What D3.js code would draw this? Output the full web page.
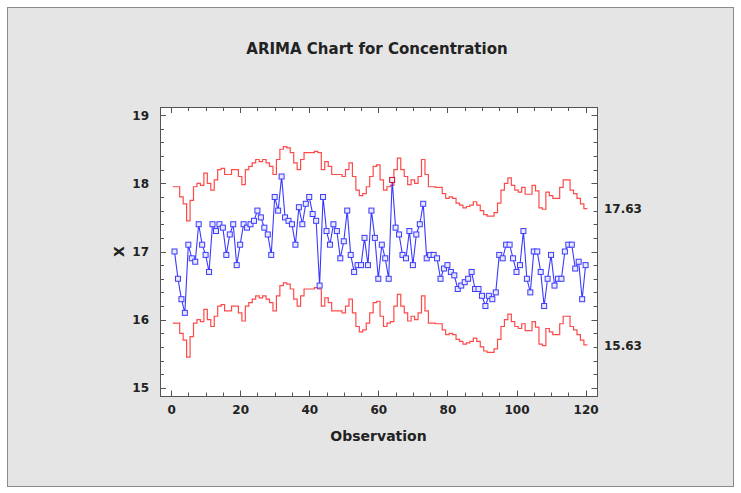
<!DOCTYPE html>
<html>
<head>
<meta charset="utf-8">
<script src="https://cdn.jsdelivr.net/npm/d3@7/dist/d3.min.js"></script>
<style>
  html, body { margin: 0; padding: 0; background: #ffffff; }
  svg { display: block; }
  text { font-family: "DejaVu Sans", Verdana, sans-serif; font-weight: bold; fill: #222; }
</style>
</head>
<body>
<svg id="chart" width="741" height="493"></svg>
<script>
// Observed concentration, observations 1..120
const concentration = [
  17.0, 16.6, 16.3, 16.1, 17.1, 16.9, 16.85, 17.4, 17.1, 16.95,
  16.7, 17.4, 17.3, 17.4, 17.35, 16.95, 17.25, 17.4, 16.8, 17.1,
  17.4, 17.35, 17.4, 17.45, 17.6, 17.5, 17.35, 17.25, 16.95, 17.8,
  17.6, 18.1, 17.5, 17.45, 17.4, 17.1, 17.65, 17.4, 17.7, 17.8,
  17.55, 17.45, 16.5, 17.8, 17.3, 17.1, 17.4, 17.3, 16.9, 17.15,
  17.6, 16.95, 16.7, 16.8, 16.8, 17.2, 16.8, 17.6, 17.2, 16.6,
  17.1, 16.9, 16.6, 18.05, 17.35, 17.25, 16.95, 16.9, 17.3, 16.8,
  17.25, 17.4, 17.7, 16.9, 16.95, 16.95, 16.9, 16.6, 16.75, 16.8,
  16.7, 16.65, 16.45, 16.5, 16.55, 16.6, 16.7, 16.45, 16.45, 16.35,
  16.2, 16.35, 16.3, 16.4, 16.95, 16.9, 17.1, 17.1, 16.9, 16.7,
  16.8, 17.3, 16.6, 16.4, 17.0, 17.0, 16.7, 16.2, 16.6, 16.95,
  16.5, 16.6, 16.6, 17.0, 17.1, 17.1, 16.75, 16.85, 16.3, 16.8
];

// One-step-ahead ARIMA forecasts for each observation
const forecast = [
  16.95, 16.95, 16.8, 16.7, 16.45, 16.75, 16.95, 17.0, 16.97, 17.15,
  17.0, 16.9, 17.05, 17.2, 17.22, 17.13, 17.13, 17.2, 17.2, 17.1,
  16.98, 17.2, 17.25, 17.3, 17.35, 17.32, 17.35, 17.3, 17.25, 17.13,
  17.35, 17.5, 17.54, 17.52, 17.45, 17.3, 17.2, 17.35, 17.45, 17.45,
  17.45, 17.47, 17.45, 17.2, 17.32, 17.25, 17.13, 17.13, 17.13, 17.1,
  17.2, 17.3, 17.1, 16.9, 16.82, 16.85, 16.95, 17.1, 17.25, 17.27,
  17.05, 16.9, 16.95, 16.97, 17.2, 17.37, 17.2, 17.1, 16.98, 17.05,
  17.0, 17.1, 17.35, 17.13, 16.95, 16.95, 16.94, 16.94, 16.85, 16.78,
  16.8, 16.78, 16.71, 16.68, 16.64, 16.66, 16.68, 16.73, 16.68, 16.6,
  16.54, 16.52, 16.52, 16.57, 16.71, 16.9, 17.0, 17.08, 16.97, 16.9,
  16.87, 16.94, 16.84, 16.84, 16.97, 16.89, 16.64, 16.62, 16.87, 16.82,
  16.78, 16.78, 16.94, 17.05, 17.05, 16.9, 16.85, 16.78, 16.7, 16.63
];

// Control limits sit this far either side of the forecast
const limitWidth = 1.0;

const xTicks = [0, 20, 40, 60, 80, 100, 120];
const yTicks = [15, 16, 17, 18, 19];

const title = "ARIMA Chart for Concentration";
const xTitle = "Observation";
const yTitle = "X";

const svg = d3.select("#chart");
const W = 741, H = 493;

// Outer panel
svg.append("rect")
  .attr("x", 7.5).attr("y", 7.5)
  .attr("width", W - 15).attr("height", H - 14)
  .attr("fill", "#e5e5e5").attr("stroke", "#8a8a8a");

const plot = { left: 160, top: 107, right: 597, bottom: 396 };

const x = d3.scaleLinear().domain([-3.2, 123.3]).range([plot.left, plot.right]);
const y = d3.scaleLinear().domain([14.88, 19.12]).range([plot.bottom, plot.top]);

// Plot area
svg.append("rect")
  .attr("x", plot.left + 0.5).attr("y", plot.top + 0.5)
  .attr("width", plot.right - plot.left).attr("height", plot.bottom - plot.top)
  .attr("fill", "#ffffff");

// Title
svg.append("text")
  .attr("x", 377).attr("y", 54)
  .attr("text-anchor", "middle")
  .attr("font-size", 15)
  .text(title);

// Inward ticks on all four sides
const minorY = d3.range(15, 19.01, 0.2);
const minorX = d3.range(0, 121, 5);
const tickG = svg.append("g").attr("stroke", "#555").attr("stroke-width", 1);

minorY.forEach(v => {
  const isMajor = Math.abs(v - Math.round(v)) < 1e-6;
  const len = isMajor ? 6 : 4;
  const yy = Math.round(y(v)) + 0.5;
  tickG.append("line").attr("x1", plot.left).attr("x2", plot.left + len).attr("y1", yy).attr("y2", yy);
  tickG.append("line").attr("x1", plot.right + 0.5).attr("x2", plot.right + 0.5 - len).attr("y1", yy).attr("y2", yy);
});
minorX.forEach(v => {
  const isMajor = v % 20 === 0;
  const len = isMajor ? 6 : 4;
  const xx = Math.round(x(v)) + 0.5;
  tickG.append("line").attr("x1", xx).attr("x2", xx).attr("y1", plot.top).attr("y2", plot.top + len);
  tickG.append("line").attr("x1", xx).attr("x2", xx).attr("y1", plot.bottom + 0.5).attr("y2", plot.bottom + 0.5 - len);
});

// Axes tick labels via D3 axes
const xAxis = d3.axisBottom(x).tickValues(xTicks).tickFormat(d3.format("d")).tickSize(0).tickPadding(8);
const yAxis = d3.axisLeft(y).tickValues(yTicks).tickFormat(d3.format("d")).tickSize(0).tickPadding(11);

const gx = svg.append("g").attr("transform", `translate(0,${plot.bottom})`).call(xAxis);
const gy = svg.append("g").attr("transform", `translate(${plot.left},0)`).call(yAxis);
[gx, gy].forEach(g => {
  g.select(".domain").remove();
  g.selectAll("text")
    .attr("font-size", 12).attr("font-weight", "bold")
    .attr("font-family", "DejaVu Sans, Verdana, sans-serif")
    .attr("fill", "#222");
});
gx.selectAll("text").attr("dy", "0.85em");

// Axis titles
svg.append("text")
  .attr("x", (plot.left + plot.right) / 2).attr("y", 441)
  .attr("text-anchor", "middle")
  .attr("font-size", 14)
  .text(xTitle);

svg.append("text")
  .attr("transform", `translate(124,${y(17)}) rotate(-90)`)
  .attr("text-anchor", "middle")
  .attr("font-size", 14)
  .text(yTitle);

// Control limits drawn as steps, each forecast spanning its observation
const ucl = forecast.map(f => f + limitWidth);
const lcl = forecast.map(f => f - limitWidth);

function stepPoints(vals) {
  const pts = vals.map((v, i) => [i + 1 - 0.5, v]);
  pts.push([vals.length + 0.5, vals[vals.length - 1]]);
  return pts;
}
const stepLine = d3.line()
  .x(d => x(d[0])).y(d => y(d[1]))
  .curve(d3.curveStepAfter);

[ucl, lcl].forEach(lim => {
  svg.append("path")
    .attr("d", stepLine(stepPoints(lim)))
    .attr("fill", "none")
    .attr("stroke", "#ff4a4a")
    .attr("stroke-width", 1.2);
});

// Right-side limit labels
[ucl[ucl.length - 1], lcl[lcl.length - 1]].forEach(v => {
  svg.append("text")
    .attr("x", 604).attr("y", y(v))
    .attr("dy", "0.4em")
    .attr("font-size", 12)
    .text(v.toFixed(2));
});

// Observations line and markers
const obs = concentration.map((v, i) => ({ i: i + 1, v, out: v > ucl[i] || v < lcl[i] }));

svg.append("path")
  .attr("d", d3.line().x(d => x(d.i)).y(d => y(d.v))(obs))
  .attr("fill", "none")
  .attr("stroke", "#3a3aff")
  .attr("stroke-width", 1.1);

const ms = 5;
svg.append("g").selectAll("rect")
  .data(obs)
  .join("rect")
  .attr("x", d => x(d.i) - ms / 2)
  .attr("y", d => y(d.v) - ms / 2)
  .attr("width", ms).attr("height", ms)
  .attr("fill", "#e8e8ff")
  .attr("stroke", d => d.out ? "#d01020" : "#3a3aff")
  .attr("stroke-width", 1);

// Plot frame on top
svg.append("rect")
  .attr("x", plot.left + 0.5).attr("y", plot.top + 0.5)
  .attr("width", plot.right - plot.left).attr("height", plot.bottom - plot.top)
  .attr("fill", "none").attr("stroke", "#555").attr("stroke-width", 1);
</script>
</body>
</html>
